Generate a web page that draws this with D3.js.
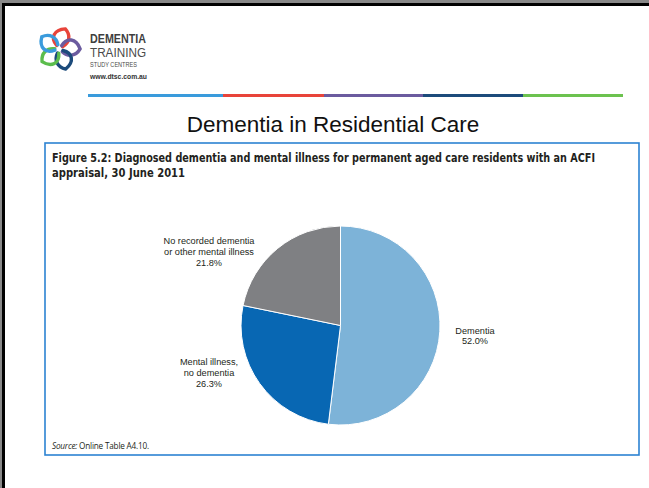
<!DOCTYPE html>
<html>
<head>
<meta charset="utf-8">
<script src="https://cdn.jsdelivr.net/npm/d3@7"></script>
<style>
  body { margin: 0; background: #fff; }
  svg { display: block; }
</style>
</head>
<body>
<svg width="649" height="488"></svg>
<script>
const w = 649;
const h = 488;

// pie data
const categories = ['Dementia', 'Mental illness, no dementia', 'No recorded dementia or other mental illness'];
const values = [52.0, 26.3, 21.8];
const sliceColors = ['#7db3d8', '#0867b3', '#7f8083'];
const labelLines = [
  ['Dementia', '52.0%'],
  ['Mental illness,', 'no dementia', '26.3%'],
  ['No recorded dementia', 'or other mental illness', '21.8%']
];
// where each label sits (centre of text block)
const labelPos = [[475, 336], [209, 373], [209, 252]];

// coloured rule under the logo
const ruleColors = ['#3a9bdc', '#e8443a', '#6b5b9f', '#1c4b7b', '#6cc24f'];
const ruleStops = [88, 223, 324, 423, 523, 623];

const svg = d3.select('svg');

// slide frame (black edge top and left)
svg.append('rect').attr('x', 0).attr('y', 0).attr('width', w).attr('height', 3).attr('fill', '#888');
svg.append('rect').attr('x', 0).attr('y', 0).attr('width', 3).attr('height', h).attr('fill', '#888');
svg.append('rect').attr('x', 2).attr('y', 3).attr('width', w).attr('height', 3).attr('fill', '#000');
svg.append('rect').attr('x', 2).attr('y', 3).attr('width', 3).attr('height', h).attr('fill', '#000');

// logo flower
const petalColors = ['#e8443a', '#6b5b9f', '#1c4b7b', '#5bbd4c', '#3a9bdc'];
const logo = svg.append('g').attr('transform', 'translate(59,49)');
logo.selectAll('path')
  .data(petalColors)
  .enter()
  .append('path')
  .attr('d', 'M -3,-3 C -11,-9 -9,-18 2,-21 C 9,-16 9,-8 3,-3')
  .attr('fill', 'none')
  .attr('stroke', d => d)
  .attr('stroke-width', 3.4)
  .attr('stroke-linecap', 'round')
  .attr('transform', (d, i) => `rotate(${i * 72 + 12})`);

const logoText = svg.append('g').attr('font-family', 'Liberation Sans, Arial, sans-serif');
logoText.append('text').attr('x', 90).attr('y', 43).attr('font-size', 12).attr('font-weight', 'bold')
  .attr('fill', '#3e3e3e').attr('textLength', 56).attr('lengthAdjust', 'spacingAndGlyphs').text('DEMENTIA');
logoText.append('text').attr('x', 90).attr('y', 57).attr('font-size', 12)
  .attr('fill', '#4a4a4a').attr('textLength', 56).attr('lengthAdjust', 'spacingAndGlyphs').text('TRAINING');
logoText.append('text').attr('x', 90).attr('y', 67).attr('font-size', 6.8)
  .attr('fill', '#4a4a4a').attr('textLength', 47).attr('lengthAdjust', 'spacingAndGlyphs').text('STUDY CENTRES');
logoText.append('text').attr('x', 90).attr('y', 79).attr('font-size', 6.5).attr('font-weight', 'bold')
  .attr('fill', '#333').attr('textLength', 57).attr('lengthAdjust', 'spacingAndGlyphs').text('www.dtsc.com.au');

// coloured rule
svg.append('g')
  .selectAll('rect')
  .data(ruleColors)
  .enter()
  .append('rect')
  .attr('x', (d, i) => ruleStops[i])
  .attr('width', (d, i) => ruleStops[i + 1] - ruleStops[i])
  .attr('y', 94)
  .attr('height', 3)
  .attr('fill', d => d);

// slide title
svg.append('text')
  .attr('x', 333)
  .attr('y', 132)
  .attr('text-anchor', 'middle')
  .attr('font-family', 'Liberation Sans, Arial, sans-serif')
  .attr('font-size', 22.5)
  .attr('fill', '#111')
  .text('Dementia in Residential Care');

// figure box
svg.append('rect')
  .attr('x', 45).attr('y', 143)
  .attr('width', 594).attr('height', 312)
  .attr('fill', '#fff')
  .attr('stroke', '#2c83d2')
  .attr('stroke-width', 1.6);

const caption = svg.append('g')
  .attr('font-family', 'Liberation Sans Narrow, DejaVu Sans Condensed, sans-serif')
  .attr('font-weight', 'bold')
  .attr('font-size', 11.5)
  .attr('fill', '#231f20');
caption.append('text').attr('x', 52).attr('y', 162)
  .attr('textLength', 543).attr('lengthAdjust', 'spacingAndGlyphs')
  .text('Figure 5.2: Diagnosed dementia and mental illness for permanent aged care residents with an ACFI');
caption.append('text').attr('x', 52).attr('y', 177)
  .attr('textLength', 133).attr('lengthAdjust', 'spacingAndGlyphs')
  .text('appraisal, 30 June 2011');

// pie
const radius = 99.5;
const pie = d3.pie().sort(null).value(d => d);
const arc = d3.arc().innerRadius(0).outerRadius(radius);
const color = d3.scaleOrdinal().domain(categories).range(sliceColors);

svg.append('g')
  .attr('transform', 'translate(340.5,325.5)')
  .selectAll('path')
  .data(pie(values))
  .enter()
  .append('path')
  .attr('d', arc)
  .attr('fill', (d, i) => color(categories[i]))
  .attr('stroke', '#fff')
  .attr('stroke-width', 1);

// slice labels
const labels = svg.append('g')
  .attr('font-family', 'Liberation Sans, Arial, sans-serif')
  .attr('font-size', 9.2)
  .attr('fill', '#231f20')
  .attr('text-anchor', 'middle');

labelLines.forEach((lines, i) => {
  const [cx, cy] = labelPos[i];
  const top = cy - (lines.length - 1) * 10.7 / 2;
  lines.forEach((line, j) => {
    labels.append('text')
      .attr('x', cx)
      .attr('y', top + j * 10.7 + 3)
      .text(line);
  });
});

// source note
const src = svg.append('text')
  .attr('x', 52).attr('y', 449)
  .attr('font-family', 'Open Sans, DejaVu Sans, sans-serif')
  .attr('font-size', 8.2)
  .attr('letter-spacing', -0.2)
  .attr('fill', '#231f20');
src.append('tspan').attr('font-style', 'italic').text('Source:');
src.append('tspan').text(' Online Table A4.10.');
</script>
</body>
</html>
